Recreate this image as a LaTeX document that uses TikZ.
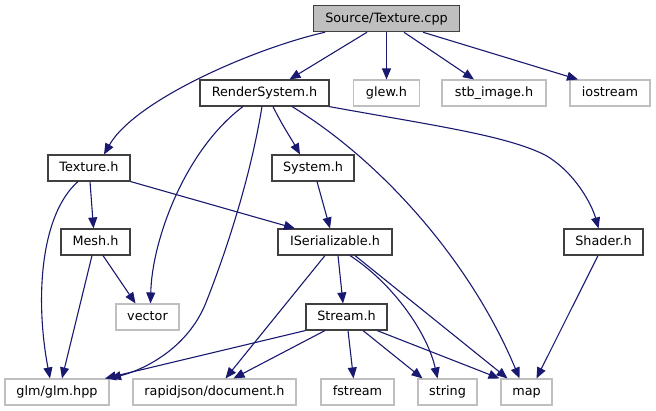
\documentclass[tikz,border=0pt]{standalone}
\usepackage{fontspec}
\setmainfont{DejaVu Sans}
\usetikzlibrary{arrows.meta}
\definecolor{edgeblue}{HTML}{191970}
\definecolor{boxgray}{HTML}{BFBFBF}
\definecolor{boxdark}{HTML}{404040}
\tikzset{
  base/.style={rectangle, inner sep=0pt, minimum height=26pt, line width=1.1pt,
    font=\fontsize{12.8pt}{14pt}\selectfont, text height=9.3pt, text depth=2.5pt, align=center},
  intbox/.style={base, draw=boxdark, fill=white},
  extbox/.style={base, draw=boxgray, fill=white},
  rootbox/.style={base, draw=boxdark, fill=boxgray},
  dep/.style={draw=edgeblue, line width=1.1pt, -{Triangle[length=11pt,width=9pt]}, color=edgeblue}
}
\begin{document}
\begin{tikzpicture}[x=1pt,y=-1pt]
\useasboundingbox (0,0) rectangle (656,411);
% nodes
\node[rootbox, minimum width=146pt] (cpp) at (386.5,18.7) {Source/Texture.cpp};
\node[intbox, minimum width=129pt] (rs) at (264.5,93) {RenderSystem.h};
\node[extbox, minimum width=66pt] (glew) at (386.5,93) {glew.h};
\node[extbox, minimum width=104pt] (stb) at (494,93) {stb\_image.h};
\node[extbox, minimum width=80pt] (ios) at (610,93) {iostream};
\node[intbox, minimum width=82pt] (tex) at (89,168) {Texture.h};
\node[intbox, minimum width=82pt] (sys) at (313,168) {System.h};
\node[intbox, minimum width=69pt] (mesh) at (95.5,242) {Mesh.h};
\node[intbox, minimum width=114pt] (iser) at (335,242) {ISerializable.h};
\node[intbox, minimum width=79pt] (shader) at (603.5,242) {Shader.h};
\node[extbox, minimum width=63pt] (vec) at (147.5,317) {vector};
\node[intbox, minimum width=81pt] (stream) at (346.5,317) {Stream.h};
\node[extbox, minimum width=104pt] (glm) at (57,392) {glm/glm.hpp};
\node[extbox, minimum width=163pt] (rj) at (214.5,392) {rapidjson/document.h};
\node[extbox, minimum width=73pt] (fs) at (357.5,392) {fstream};
\node[extbox, minimum width=59pt] (str) at (447.5,392) {string};
\node[extbox, minimum width=51pt] (map) at (526.5,392) {map};
% edges from cpp
\draw[dep] ([xshift=-61.5pt]cpp.south) .. controls (255,48) and (135,100) .. ([xshift=15pt]tex.north);
\draw[dep] ([xshift=-19.5pt]cpp.south) -- ([xshift=25pt]rs.north);
\draw[dep] (cpp.south) -- (glew.north);
\draw[dep] ([xshift=17.5pt]cpp.south) -- ([xshift=-20pt]stb.north);
\draw[dep] ([xshift=36.5pt]cpp.south) -- ([xshift=-32pt]ios.north);
% edges from RenderSystem
\draw[dep] ([xshift=-21.5pt]rs.south) .. controls (185,150) and (152,240) .. ([xshift=3pt]vec.north);
\draw[dep] ([xshift=-2.5pt]rs.south) .. controls (250,180) and (225,255) .. (205,305) .. controls (188,345) and (150,368) .. ([xshift=53pt]glm.north);
\draw[dep] ([xshift=8.5pt]rs.south) .. controls (282,125) and (292,140) .. ([xshift=-13pt]sys.north);
\draw[dep] ([xshift=27.5pt]rs.south) .. controls (380,160) and (470,260) .. ([xshift=-7pt]map.north);
\draw[dep] ([xshift=-0.5pt]rs.south east) .. controls (430,125) and (505,135) .. (545,155) .. controls (575,172) and (592,205) .. ([xshift=-5pt]shader.north);
% edges from Texture.h
\draw[dep] ([xshift=-11pt]tex.south) .. controls (40,215) and (35,300) .. ([xshift=-7pt]glm.north);
\draw[dep] ([xshift=1pt]tex.south) -- ([xshift=-2pt]mesh.north);
\draw[dep] (tex.south east) -- ([xshift=-40pt]iser.north);
% System.h
\draw[dep] ([xshift=4pt]sys.south) -- ([xshift=-5pt]iser.north);
% Mesh.h
\draw[dep] ([xshift=-3.5pt]mesh.south) -- ([xshift=5pt]glm.north);
\draw[dep] ([xshift=7.5pt]mesh.south) -- ([xshift=-12pt]vec.north);
% ISerializable.h
\draw[dep] ([xshift=-10pt]iser.south) -- ([xshift=11pt]rj.north);
\draw[dep] ([xshift=3pt]iser.south) -- ([xshift=-3.5pt]stream.north);
\draw[dep] ([xshift=15pt]iser.south) .. controls (395,285) and (428,335) .. ([xshift=-10pt]str.north);
\draw[dep] ([xshift=20pt]iser.south) -- ([xshift=-19pt]map.north);
% Shader.h
\draw[dep] ([xshift=-5.5pt]shader.south) -- ([xshift=10pt]map.north);
% Stream.h
\draw[dep] (stream.south west) -- ([xshift=48pt]glm.north);
\draw[dep] ([xshift=-21.5pt]stream.south) -- ([xshift=19pt]rj.north);
\draw[dep] ([xshift=1.5pt]stream.south) -- ([xshift=-4pt]fs.north);
\draw[dep] ([xshift=16.5pt]stream.south) -- ([xshift=-25pt]str.north);
\draw[dep] ([xshift=30.5pt]stream.south) -- ([xshift=-27pt]map.north);
\end{tikzpicture}
\end{document}
